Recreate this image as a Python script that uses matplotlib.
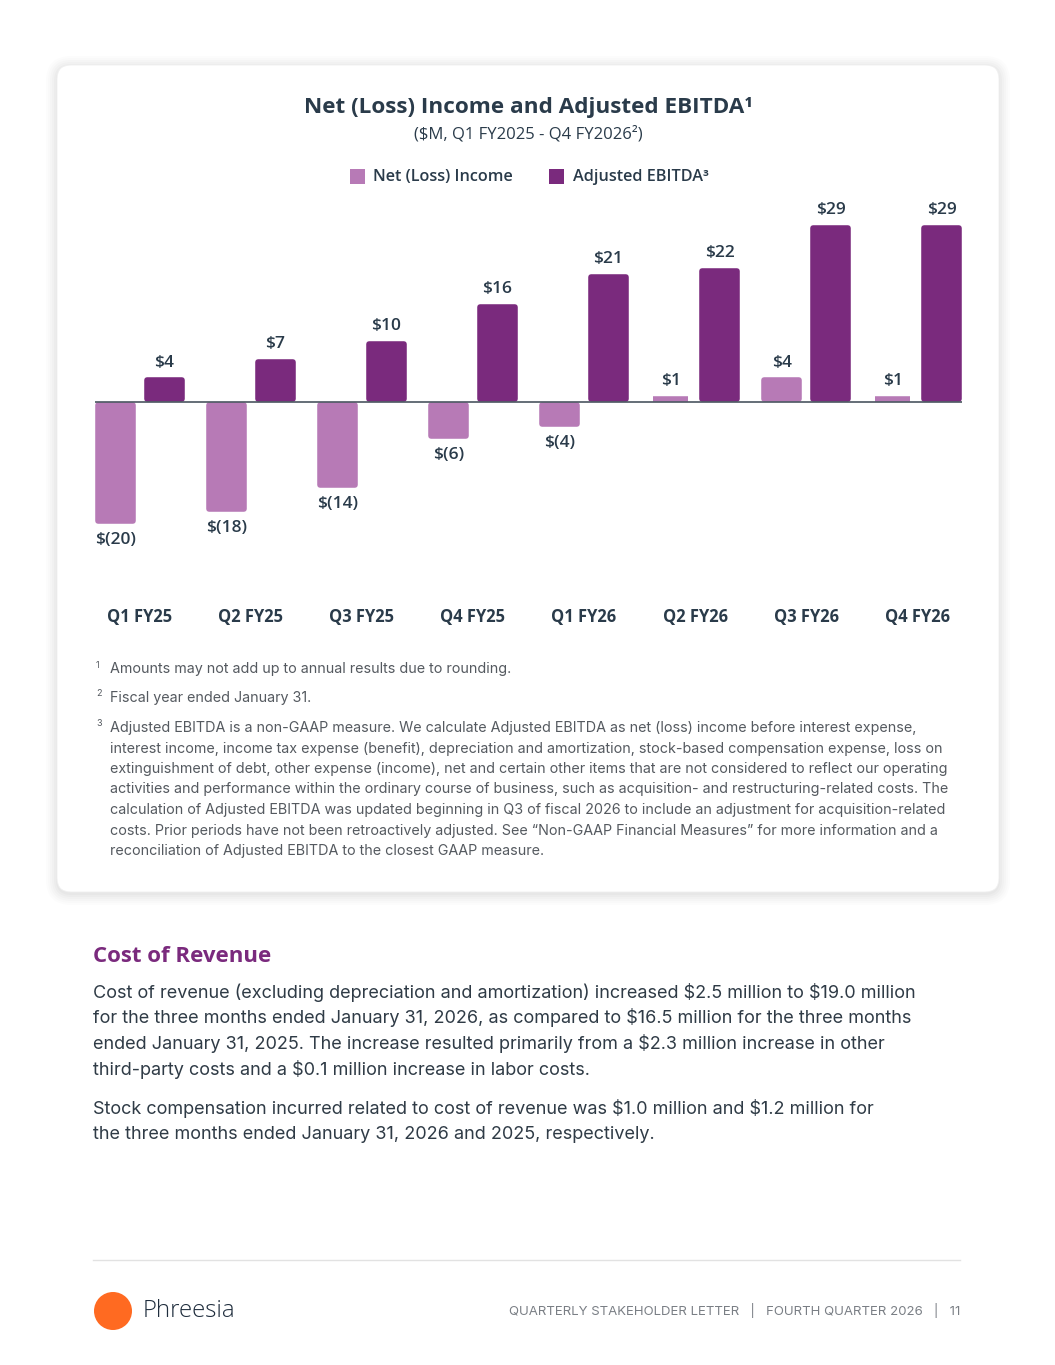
import matplotlib
matplotlib.use("Agg")
import matplotlib.pyplot as plt
from matplotlib.patches import FancyBboxPatch, Circle
from matplotlib import transforms

# ---------------- data ----------------
quarters = ["Q1 FY25", "Q2 FY25", "Q3 FY25", "Q4 FY25", "Q1 FY26", "Q2 FY26", "Q3 FY26", "Q4 FY26"]
net_income = [-20, -18, -14, -6, -4, 1, 4, 1]
adj_ebitda = [4, 7, 10, 16, 21, 22, 29, 29]

title = "Net (Loss) Income and Adjusted EBITDA"
subtitle = "($M, Q1 FY2025 - Q4 FY2026²)"
legend_labels = ["Net (Loss) Income", "Adjusted EBITDA"]

footnotes = [
    ("1", ["Amounts may not add up to annual results due to rounding."]),
    ("2", ["Fiscal year ended January 31."]),
    ("3", [
        "Adjusted EBITDA is a non-GAAP measure. We calculate Adjusted EBITDA as net (loss) income before interest expense,",
        "interest income, income tax expense (benefit), depreciation and amortization, stock-based compensation expense, loss on",
        "extinguishment of debt, other expense (income), net and certain other items that are not considered to reflect our operating",
        "activities and performance within the ordinary course of business, such as acquisition- and restructuring-related costs. The",
        "calculation of Adjusted EBITDA was updated beginning in Q3 of fiscal 2026 to include an adjustment for acquisition-related",
        "costs. Prior periods have not been retroactively adjusted. See \u201cNon-GAAP Financial Measures\u201d for more information and a",
        "reconciliation of Adjusted EBITDA to the closest GAAP measure.",
    ]),
]

section_title = "Cost of Revenue"
para1 = [
    "Cost of revenue (excluding depreciation and amortization) increased $2.5 million to $19.0 million",
    "for the three months ended January 31, 2026, as compared to $16.5 million for the three months",
    "ended January 31, 2025. The increase resulted primarily from a $2.3 million increase in other",
    "third-party costs and a $0.1 million increase in labor costs.",
]
para2 = [
    "Stock compensation incurred related to cost of revenue was $1.0 million and $1.2 million for",
    "the three months ended January 31, 2026 and 2025, respectively.",
]
footer_text = "QUARTERLY STAKEHOLDER LETTER   |   FOURTH QUARTER 2026   |   11"
brand = "Phreesia"

# ---------------- style ----------------
LIGHT = "#b77ab6"
DARK = "#7a2a7d"
TXT = "#2a3b4a"
GRAY = "#555a60"
HEAD_FONT = ["Open Sans", "DejaVu Sans"]
BODY_FONT = ["Inter", "DejaVu Sans"]

W, H = 1055, 1365
fig = plt.figure(figsize=(W / 100, H / 100), dpi=100)
fig.patch.set_facecolor("white")

bg = fig.add_axes([0, 0, 1, 1])
bg.set_xlim(0, W)
bg.set_ylim(H, 0)
bg.axis("off")

def T(x, y, s, **kw):
    kw.setdefault("parse_math", False)
    return bg.text(x, y, s, **kw)

# card shadow + card
for i, a in enumerate([0.018, 0.018, 0.016, 0.014, 0.012, 0.01]):
    g = 1 + i * 2
    bg.add_patch(FancyBboxPatch((57 - g, 65 - g + 2), 942 + 2 * g, 827 + 2 * g,
                                boxstyle="round,pad=0,rounding_size=%d" % (14 + g),
                                fc="black", ec="none", alpha=a, zorder=0))
bg.add_patch(FancyBboxPatch((57, 65), 942, 827, boxstyle="round,pad=0,rounding_size=14",
                            fc="white", ec="#f0f0f0", lw=0.6, zorder=1))

# title & subtitle
T(528, 107, title + "¹", ha="center", va="center", fontsize=16.2, fontweight="bold",
  color=TXT, family=HEAD_FONT, zorder=3)
T(528, 134, subtitle, ha="center", va="center", fontsize=12, color=TXT,
  family=HEAD_FONT, zorder=3)

# legend
bg.add_patch(plt.Rectangle((350, 169), 15, 15, fc=LIGHT, ec="none", zorder=3))
T(373, 177, legend_labels[0], ha="left", va="center", fontsize=11.7, color=TXT,
  family=HEAD_FONT, fontweight="semibold", zorder=3)
bg.add_patch(plt.Rectangle((549, 169), 15, 15, fc=DARK, ec="none", zorder=3))
T(573, 177, legend_labels[1] + "³", ha="left", va="center", fontsize=11.7, color=TXT,
  family=HEAD_FONT, fontweight="semibold", zorder=3)

# ---------------- chart axes ----------------
top_px, bot_px, left_px, right_px = 200, 560, 95, 962
zero_px = 402
ax = fig.add_axes([left_px / W, 1 - bot_px / H, (right_px - left_px) / W, (bot_px - top_px) / H])
ax.patch.set_alpha(0)
s = 6.1  # px per unit
ax.set_ylim(-(bot_px - zero_px) / s, (zero_px - top_px) / s)
off, bw = 0.22, 0.365
ax.set_xlim(-off - bw / 2, len(quarters) - 1 + off + bw / 2)
for sp in ax.spines.values():
    sp.set_visible(False)
ax.set_xticks([])
ax.set_yticks([])

x = list(range(len(quarters)))
px_per_unit_x = (right_px - left_px) / (ax.get_xlim()[1] - ax.get_xlim()[0])
lw_pt = 4
lw_px = lw_pt * 100 / 72
inner = bw - lw_px / px_per_unit_x
shrink = lw_px / 2 / s

def bar_geom(vals):
    bottoms, heights = [], []
    for v in vals:
        sg = 1 if v >= 0 else -1
        h = v - 2 * sg * shrink
        if abs(h) < 0.05 or (h * sg) < 0:
            h = 0.05 * sg
        bottoms.append(sg * shrink)
        heights.append(h)
    return bottoms, heights

b, h = bar_geom(net_income)
ax.bar([i - off for i in x], h, bottom=b, width=inner, color=LIGHT,
       edgecolor=LIGHT, linewidth=lw_pt, joinstyle="round", zorder=2)
b, h = bar_geom(adj_ebitda)
ax.bar([i + off for i in x], h, bottom=b, width=inner, color=DARK,
       edgecolor=DARK, linewidth=lw_pt, joinstyle="round", zorder=2)
ax.axhline(0, color="#4a5560", lw=1.2, zorder=3)

def fmt(v):
    return "$(%d)" % abs(v) if v < 0 else "$%d" % v

for i in x:
    for v, xo in ((net_income[i], i - off), (adj_ebitda[i], i + off)):
        if v >= 0:
            ax.annotate(fmt(v), (xo, v), xytext=(0, 5), textcoords="offset points",
                        ha="center", va="bottom", fontsize=12.5, fontweight="semibold",
                        color=TXT, family=HEAD_FONT, parse_math=False)
        else:
            ax.annotate(fmt(v), (xo, v), xytext=(0, -6), textcoords="offset points",
                        ha="center", va="top", fontsize=12.5, fontweight="semibold",
                        color=TXT, family=HEAD_FONT, parse_math=False)

tr = transforms.blended_transform_factory(ax.transData, fig.transFigure)
for i, q in enumerate(quarters):
    ax.text(i, 1 - 617 / H, q, transform=tr, ha="center", va="center", fontsize=11.9,
            fontweight="bold", color=TXT, family=HEAD_FONT)

# ---------------- footnotes ----------------
fy = [669, 698, 728]
for (num, lines), y0 in zip(footnotes, fy):
    T(96, y0 - 4, num, ha="left", va="center", fontsize=6.5, color=GRAY,
      family=BODY_FONT, zorder=3)
    for k, ln in enumerate(lines):
        T(110, y0 + k * 20.5, ln, ha="left", va="center", fontsize=10.33,
          color=GRAY, family=BODY_FONT, zorder=3)

# ---------------- body text ----------------
T(93, 956, section_title, ha="left", va="center", fontsize=16, fontweight="bold",
  color=DARK, family=HEAD_FONT)
for k, ln in enumerate(para1):
    T(93, 992 + k * 25.7, ln, ha="left", va="center", fontsize=13.0, color="#2f3b46",
      family=BODY_FONT)
for k, ln in enumerate(para2):
    T(93, 1109 + k * 25.7, ln, ha="left", va="center", fontsize=13.0, color="#2f3b46",
      family=BODY_FONT)

# ---------------- footer ----------------
bg.plot([93, 960], [1260, 1260], color="#e2e2e2", lw=1)
bg.add_patch(Circle((113, 1311), 19, fc="#ff6a21", ec="none"))
T(143, 1311, brand, ha="left", va="center", fontsize=17.3, color="#1f2d3d",
  family=["Open Sans", "DejaVu Sans"], fontweight="light")
T(960, 1311, footer_text, ha="right", va="center", fontsize=9.5, color="#7a7f85",
  family=BODY_FONT)

fig.savefig("out.png", dpi=100, facecolor=fig.get_facecolor())
